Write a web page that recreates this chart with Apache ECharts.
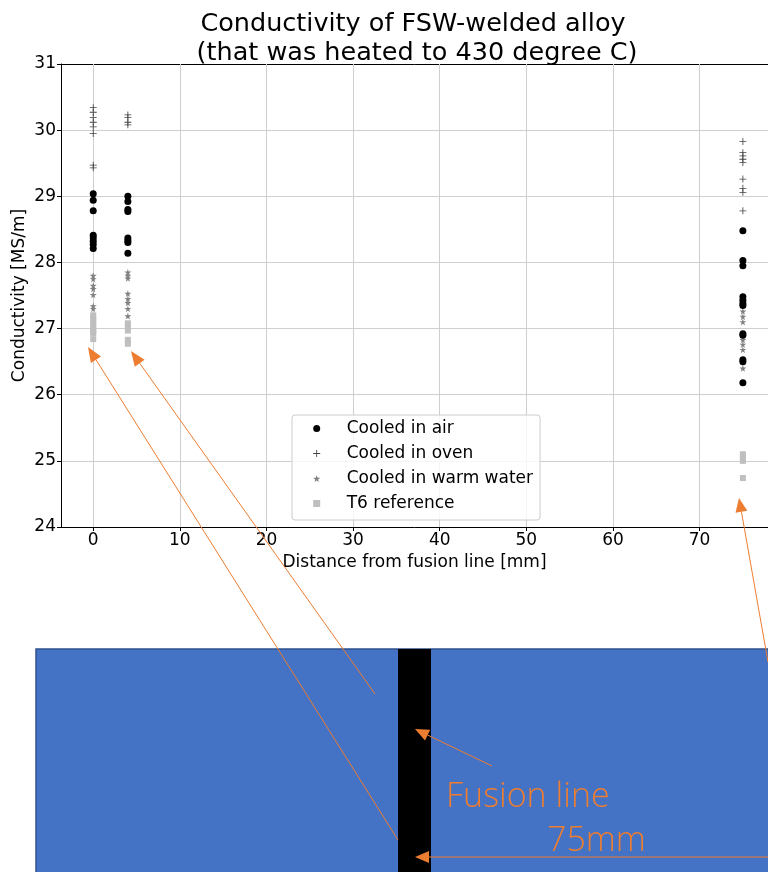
<!DOCTYPE html>
<html>
<head>
<meta charset="utf-8">
<script src="https://cdn.jsdelivr.net/npm/echarts@6/dist/echarts.min.js"></script>
<style>
html,body{margin:0;padding:0;background:#fff;}
#chart{width:768px;height:872px;}
</style>
</head>
<body>
<div id="chart"></div>
<script>
// ---- data ----
const xTicks = [0, 10, 20, 30, 40, 50, 60, 70];
const yTicks = [24, 25, 26, 27, 28, 29, 30, 31];

const airX0 = [29.04, 28.94, 28.78, 28.41, 28.37, 28.32, 28.27, 28.21];
const airX4 = [29.0, 28.92, 28.8, 28.77, 28.37, 28.33, 28.3, 28.14];
const airX75 = [28.48, 28.03, 27.95, 27.48, 27.43, 27.38, 27.35, 26.92, 26.9, 26.53, 26.5, 26.18];

const ovenX0 = [30.34, 30.27, 30.19, 30.12, 30.05, 29.95, 29.47, 29.43];
const ovenX4 = [30.23, 30.19, 30.12, 30.08];
const ovenX75 = [29.83, 29.66, 29.61, 29.56, 29.51, 29.26, 29.12, 29.06, 28.78];

const waterX0 = [27.8, 27.75, 27.65, 27.6, 27.51, 27.34, 27.3];
const waterX4 = [27.85, 27.8, 27.76, 27.53, 27.45, 27.39, 27.3, 27.19];
const waterX75 = [27.26, 27.18, 27.1, 26.9, 26.83, 26.76, 26.68, 26.4];

const t6X0 = [27.2, 27.15, 27.1, 27.05, 27.0, 26.96, 26.93, 26.84];
const t6X4 = [27.08, 27.04, 26.97, 26.83, 26.77];
const t6X75 = [25.1, 25.05, 25.0, 24.74];

const seriesNames = ['Cooled in air', 'Cooled in oven', 'Cooled in warm water', 'T6 reference'];

function pts(x, arr) { return arr.map(v => [x, v]); }
const airData = pts(0, airX0).concat(pts(4, airX4), pts(75, airX75));
const ovenData = pts(0, ovenX0).concat(pts(4, ovenX4), pts(75, ovenX75));
const waterData = pts(0, waterX0).concat(pts(4, waterX4), pts(75, waterX75));
const t6Data = pts(0, t6X0).concat(pts(4, t6X4), pts(75, t6X75));

const PLUS = 'path://M4.4,0 L5.6,0 L5.6,4.4 L10,4.4 L10,5.6 L5.6,5.6 L5.6,10 L4.4,10 L4.4,5.6 L0,5.6 L0,4.4 L4.4,4.4 Z';
const STAR = 'path://M50,0 L61,35 L98,35 L68,57 L79,91 L50,70 L21,91 L32,57 L2,35 L39,35 Z';
const SQUARE = 'path://M0,0 L10,0 L10,10 L0,10 Z';

const FONT = 'DejaVu Sans';
const ORANGE = '#ED7D31';
const X_MIN = -3.72, X_MAX = 77.9;

function arrow(x1, y1, x2, y2, len, wid) {
  const dx = x2 - x1, dy = y2 - y1;
  const d = Math.sqrt(dx * dx + dy * dy);
  const ux = dx / d, uy = dy / d;
  const bx = x2 - ux * len, by = y2 - uy * len;
  const px = -uy * wid / 2, py = ux * wid / 2;
  return [
    { type: 'line', shape: { x1: x1, y1: y1, x2: bx, y2: by }, style: { stroke: ORANGE, lineWidth: 1 }, z: 100 },
    { type: 'polygon', shape: { points: [[x2, y2], [bx + px, by + py], [bx - px, by - py]] }, style: { fill: ORANGE }, z: 100 }
  ];
}

const graphics = [
  { type: 'rect', shape: { x: 36, y: 649, width: 760, height: 240 }, style: { fill: '#4472C4', stroke: '#2F528F', lineWidth: 1.5 }, z: 50 },
  { type: 'rect', shape: { x: 398, y: 649, width: 33, height: 240 }, style: { fill: '#000000' }, z: 51 },
  { type: 'text', x: 446, y: 797, style: { text: 'Fusion line', fill: ORANGE, font: '300 34px "Open Sans"', textVerticalAlign: 'middle' }, z: 100 },
  { type: 'text', x: 547, y: 841, style: { text: '75mm', fill: ORANGE, font: '300 34px "Open Sans"', textVerticalAlign: 'middle' }, z: 100 }
].concat(
  arrow(398, 840, 88, 347, 15, 12),
  arrow(375, 694, 131, 351, 15, 12),
  arrow(768, 662, 739, 498, 14, 12),
  arrow(492, 766, 415, 729, 14, 12),
  arrow(770, 857, 415, 857, 14, 12)
);

const chart = echarts.init(document.getElementById('chart'));
chart.setOption({
  animation: false,
  backgroundColor: '#ffffff',
  textStyle: { fontFamily: FONT },
  title: {
    text: 'Conductivity of FSW-welded alloy\n (that was heated to 430 degree C)',
    left: 408, top: 5, textAlign: 'center',
    textStyle: { fontFamily: FONT, fontSize: 25.5, fontWeight: 'normal', color: '#000', lineHeight: 29 }
  },
  grid: { left: 61, top: 64, right: 0, bottom: 345, show: false, containLabel: false, outerBoundsMode: 'none' },
  legend: {
    orient: 'vertical', left: 292, top: 415,
    padding: [5, 7, 8, 21], itemGap: 8, itemWidth: 50, itemHeight: 7,
    backgroundColor: 'rgba(255,255,255,0.8)', borderColor: '#cccccc', borderWidth: 1, borderRadius: 3,
    textStyle: { fontFamily: FONT, fontSize: 17, color: '#000' },
    data: seriesNames
  },
  xAxis: [{
    type: 'value', min: X_MIN, max: X_MAX,
    name: 'Distance from fusion line [mm]', nameLocation: 'middle', nameGap: 27,
    nameTextStyle: { fontFamily: FONT, fontSize: 17, color: '#000' },
    axisLine: { show: true, onZero: false, lineStyle: { color: '#000', width: 1 } },
    axisTick: { show: true, customValues: xTicks, length: 4, lineStyle: { color: '#000' } },
    axisLabel: { customValues: xTicks, fontFamily: FONT, fontSize: 17, color: '#000', margin: 5 },
    splitLine: { show: false }
  }, {
    type: 'value', min: X_MIN, max: X_MAX, position: 'top',
    axisLine: { show: true, onZero: false, lineStyle: { color: '#000', width: 1 } },
    axisTick: { show: false }, axisLabel: { show: false }, splitLine: { show: false }
  }],
  yAxis: {
    type: 'value', min: 24, max: 31, interval: 1,
    name: 'Conductivity [MS/m]', nameLocation: 'middle', nameGap: 33, nameMoveOverlap: false,
    nameTextStyle: { fontFamily: FONT, fontSize: 17, color: '#000' },
    axisLine: { show: true, onZero: false, lineStyle: { color: '#000', width: 1 } },
    axisTick: { show: true, length: 4, lineStyle: { color: '#000' } },
    axisLabel: { fontFamily: FONT, fontSize: 17, color: '#000', margin: 5 },
    splitLine: { show: true, lineStyle: { color: '#cfcfcf', width: 1 } }
  },
  series: [
    {
      name: seriesNames[0], type: 'scatter', symbol: 'circle', symbolSize: 7,
      itemStyle: { color: '#000000', opacity: 1 }, data: airData, z: 4,
      markLine: {
        silent: true, symbol: 'none', label: { show: false },
        lineStyle: { color: '#cfcfcf', width: 1, type: 'solid' },
        data: xTicks.map(v => ({ xAxis: v })), z: 1
      }
    },
    { name: seriesNames[1], type: 'scatter', symbol: PLUS, symbolSize: 7, itemStyle: { color: '#444444', opacity: 1 }, data: ovenData, z: 5 },
    { name: seriesNames[2], type: 'scatter', symbol: STAR, symbolSize: 7, itemStyle: { color: '#808080', opacity: 1 }, data: waterData, z: 3 },
    { name: seriesNames[3], type: 'scatter', symbol: SQUARE, symbolSize: 6, itemStyle: { color: '#bfbfbf', opacity: 1 }, data: t6Data, z: 2 }
  ],
  graphic: graphics
});
</script>
</body>
</html>
